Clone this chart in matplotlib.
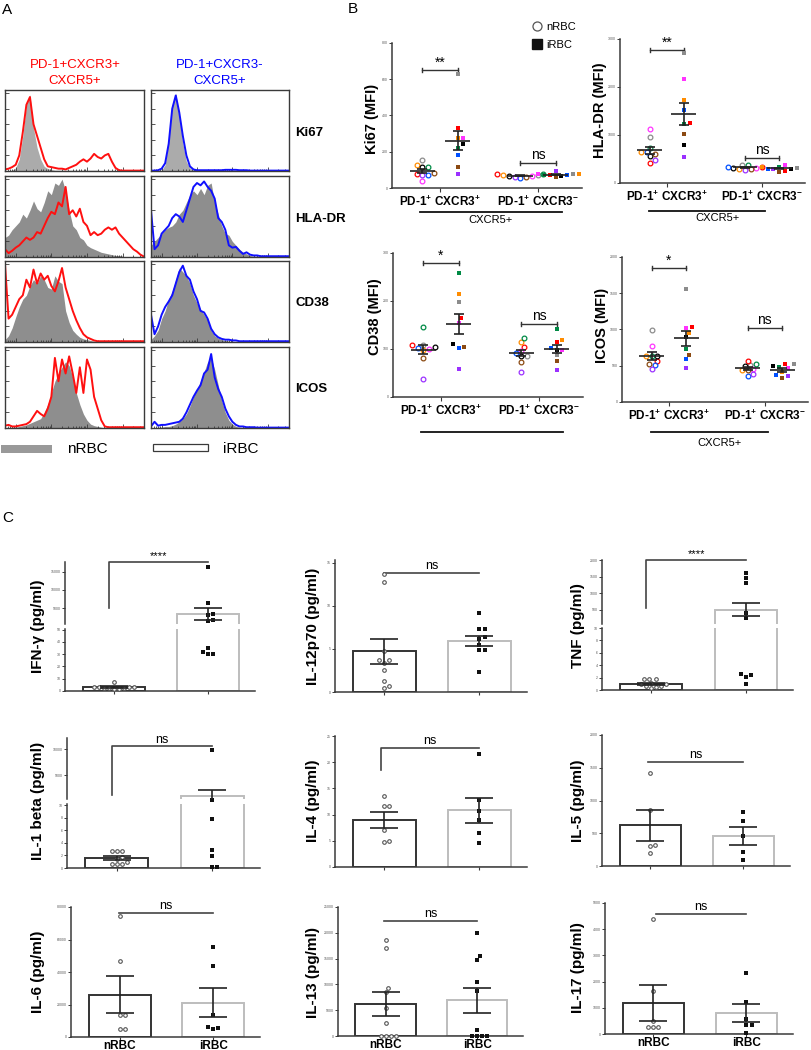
import numpy as np
import matplotlib
matplotlib.use("Agg")
import matplotlib.pyplot as plt
from matplotlib.lines import Line2D
from matplotlib.patches import Rectangle
from matplotlib.transforms import blended_transform_factory

plt.rcParams['font.family'] = ['Liberation Sans', 'DejaVu Sans']
plt.rcParams['mathtext.fontset'] = 'custom'
plt.rcParams['mathtext.rm'] = 'Liberation Sans'
plt.rcParams['mathtext.bf'] = 'Liberation Sans:bold'

# ---------------- data: panel A histograms (relative counts, 40 channels) ----------------
ki67_gray_L = [0, 0, 1, 4, 15, 45, 85, 98, 55, 30, 15, 6, 3, 2, 1, 1, 1, 1, 1, 1,
               1, 1, 1, 1, 1, 1, 1, 0, 0, 0, 0, 0, 0, 0, 0, 0, 0, 0, 0, 0]
ki67_red_L = [2, 3, 5, 8, 20, 50, 85, 95, 60, 45, 30, 15, 6, 5, 4, 3, 3, 2, 4, 6,
              8, 12, 15, 12, 16, 22, 18, 16, 20, 22, 12, 4, 1, 0.5, 0.5, 0.5, 0.5, 0.5, 0.5, 0.5]
ki67_gray_R = [0, 0, 0, 1, 8, 40, 85, 100, 70, 35, 12, 4, 1, 0.5, 0.5, 0.5, 0.5, 0.5, 0.5, 0.5,
               0.5, 0.5, 0.5, 0.5, 0.5, 0.5, 0, 0, 0, 0, 0, 0, 0, 0, 0, 0, 0, 0, 0, 0]
ki67_blue_R = [0.5, 0.5, 1, 3, 10, 35, 80, 97, 75, 45, 20, 6, 2, 1, 1, 1, 1, 1, 1, 1,
               1, 1.5, 1.5, 1.5, 1.5, 1, 1, 1, 0.5, 0.5, 0.5, 0.5, 0.5, 0.5, 0.5, 0.5, 0.5, 0.5, 0.5, 0.5]

hla_gray_L = [25, 28, 35, 40, 45, 55, 50, 60, 72, 62, 58, 70, 85, 80, 95, 92, 100, 85, 60, 40,
              35, 25, 22, 15, 12, 10, 8, 6, 5, 4, 3, 2, 2, 1, 0, 0, 0, 0, 0, 0]
hla_red_L = [10, 5, 8, 12, 15, 20, 25, 22, 25, 32, 30, 40, 50, 58, 55, 70, 65, 90, 55, 60,
             52, 62, 45, 40, 28, 32, 28, 30, 35, 38, 35, 38, 30, 25, 20, 15, 10, 7, 3, 0.5]
hla_gray_R = [15, 20, 25, 30, 35, 38, 40, 45, 55, 60, 70, 80, 85, 80, 88, 80, 92, 95, 70, 55,
              40, 30, 28, 20, 15, 10, 6, 4, 2, 1, 1, 0, 0, 0, 0, 0, 0, 0, 0, 0]
hla_blue_R = [60, 10, 15, 30, 35, 40, 50, 55, 52, 45, 60, 75, 90, 95, 92, 97, 90, 85, 75, 50,
              45, 35, 15, 12, 13, 8, 4, 6, 3, 2, 2, 1, 1, 1, 1, 1, 1, 1, 1, 1]

cd38_gray_L = [3, 8, 18, 32, 45, 55, 60, 72, 80, 75, 85, 80, 70, 68, 85, 78, 75, 40, 25, 15,
               10, 6, 4, 3, 2, 1, 1, 0, 0, 0, 0, 0, 0, 0, 0, 0, 0, 0, 0, 0]
cd38_red_L = [100, 30, 35, 45, 55, 60, 80, 70, 93, 75, 88, 80, 85, 72, 65, 78, 95, 70, 55, 40,
              28, 18, 10, 6, 4, 2, 1, 1, 1, 1, 1, 1, 1, 1, 1, 1, 1, 1, 1, 1]
cd38_gray_R = [3, 8, 15, 30, 40, 55, 65, 80, 95, 90, 85, 75, 60, 50, 42, 35, 28, 15, 8, 5,
               3, 2, 1, 1, 0, 0, 0, 0, 0, 0, 0, 0, 0, 0, 0, 0, 0, 0, 0, 0]
cd38_blue_R = [35, 10, 20, 35, 45, 52, 60, 75, 90, 98, 85, 80, 65, 55, 40, 38, 30, 17, 10, 6,
               4, 3, 3, 2, 2, 1, 1, 1, 1, 1, 1, 1, 1, 1, 1, 1, 1, 1, 1, 1]

icos_gray_L = [0, 0, 1, 1, 2, 3, 4, 6, 8, 10, 12, 20, 30, 45, 60, 70, 78, 85, 80, 65,
               45, 30, 18, 10, 5, 3, 2, 1, 0, 0, 0, 0, 0, 0, 0, 0, 0, 0, 0, 0]
icos_red_L = [3, 4, 2, 2, 3, 4, 5, 8, 15, 22, 18, 15, 25, 40, 90, 60, 88, 70, 92, 70,
              45, 78, 45, 88, 75, 40, 25, 10, 2, 1, 1, 1, 1, 1, 1, 1, 1, 1, 1, 1]
icos_gray_R = [0, 0, 1, 1, 2, 2, 3, 5, 8, 12, 18, 28, 40, 50, 60, 72, 85, 90, 75, 55,
               35, 20, 10, 5, 2, 1, 0, 0, 0, 0, 0, 0, 0, 0, 0, 0, 0, 0, 0, 0]
icos_blue_R = [2, 8, 3, 4, 4, 5, 6, 7, 8, 12, 20, 30, 40, 48, 55, 70, 75, 95, 65, 50,
               40, 25, 15, 8, 4, 2, 2, 1, 1, 1, 0.5, 0.5, 0.5, 0.5, 0.5, 0.5, 0.5, 0.5, 0.5, 0.5]

markers_A = ['Ki67', 'HLA-DR', 'CD38', 'ICOS']

# ---------------- data: panel B (MFI, donors in fixed colour order) ----------------
donor_colors = ['#8c8c8c', '#ff0000', '#ff8c00', '#ff33ff', '#000000',
                '#008a45', '#0050ff', '#8b4a12', '#9b30ff']

ki67_n1 = [155, 80, 125, 38, 115, 118, 72, 82, 70]
ki67_i1 = [628, 330, 278, 278, 240, 220, 183, 118, 75]
ki67_n2 = [70, 78, 72, 65, 68, 75, 55, 60, 62]
ki67_i2 = [75, 70, 80, 75, 68, 72, 70, 60, 94]

hla_n1 = [960, 420, 640, 1130, 560, 730, 640, 600, 470]
hla_i1 = [2700, 1250, 1730, 2160, 790, 1220, 1520, 1030, 550]
hla_n2 = [380, 330, 300, 310, 320, 370, 340, 290, 280]
hla_i2 = [320, 260, 340, 380, 300, 330, 300, 220, 290]

cd38_n1 = [108, 108, 97, 100, 105, 145, 102, 82, 38]
cd38_i1 = [198, 164, 215, 154, 110, 258, 102, 105, 58]
cd38_n2 = [85, 105, 115, 95, 85, 123, 92, 73, 53]
cd38_i2 = [88, 115, 118, 98, 98, 142, 103, 75, 56]

icos_n1 = [993, 566, 640, 772, 640, 640, 510, 530, 455]
icos_i1 = [1558, 1030, 950, 1020, 890, 731, 593, 648, 469]
icos_n2 = [510, 570, 440, 450, 500, 520, 360, 440, 380]
icos_i2 = [520, 530, 420, 470, 500, 480, 370, 330, 360]

group_labels = [r'PD-1$^\mathbf{+}$ CXCR3$^\mathbf{+}$', r'PD-1$^\mathbf{+}$ CXCR3$^\mathbf{-}$']

# ---------------- data: panel C (pg/ml), bar = mean, err = SEM ----------------
ifng_n = [7.5, 3.4, 3.0, 2.8, 3.2, 2.6, 2.4, 2.0, 3.0, 1.8]
ifng_i = [16400, 6400, 3300, 3100, 1600, 1500, 35, 32, 30, 30]
ifng_mean, ifng_sem = [3.2, 3300], [0.5, 1600]

il12_n = [13.7, 12.7, 4.7, 3.7, 3.7, 3.4, 2.6, 1.3, 0.7, 0.5]
il12_i = [9.1, 7.3, 7.3, 6.4, 6.2, 5.5, 4.9, 4.9, 2.3]
il12_mean, il12_sem = [4.7, 5.9], [1.5, 0.6]

tnf_n = [1.8, 1.7, 1.8, 1.0, 0.9, 0.6, 0.5, 0.7, 0.4, 1.2]
tnf_i = [1600, 1450, 1300, 400, 250, 2.6, 2.5, 2.1, 1.0]
tnf_mean, tnf_sem = [0.95, 500], [0.15, 190]

il1b_n = [2.7, 2.7, 2.7, 1.75, 1.4, 0.95, 0.6, 0.6, 0.6]
il1b_i = [9800, 150, 7.8, 2.9, 1.9, 0.2, 0.2]
il1b_mean, il1b_sem = [1.6, 1000], [0.3, 1200]

il4_n = [13.5, 11.7, 11.7, 7.0, 5.0, 4.8]
il4_i = [21.5, 12.7, 10.6, 8.9, 6.5, 4.6]
il4_mean, il4_sem = [9.0, 10.8], [1.5, 2.4]

il5_n = [1420, 860, 320, 310, 200]
il5_i = [820, 680, 455, 210, 90]
il5_mean, il5_sem = [620, 455], [240, 135]

il6_n = [74500, 46700, 13300, 13300, 4800, 4800]
il6_i = [55200, 43600, 13300, 6000, 5400, 4800]
il6_mean, il6_sem = [26000, 21200], [11500, 9100]

il13_n = [18650, 17100, 9230, 8460, 5380, 2500, 0, 0, 0, 0]
il13_i = [20000, 15580, 14800, 10380, 8650, 1150, 0, 0, 0, 0]
il13_mean, il13_sem = [6150, 6920], [2300, 2450]

il17_n = [4380, 1650, 500, 270, 270, 270]
il17_i = [2310, 1230, 570, 350, 350, 40]
il17_mean, il17_sem = [1190, 800], [680, 350]

conditions = ['nRBC', 'iRBC']

# ---------------- figure helpers ----------------
W, H = 811, 1050
fig = plt.figure(figsize=(W / 100, H / 100), dpi=100)
AX_COL = '#3a3a3a'


def rect(x0, y0, x1, y1):
    return [x0 / W, 1 - y1 / H, (x1 - x0) / W, (y1 - y0) / H]


def ftext(x, y, s, **kw):
    fig.text(x / W, 1 - y / H, s, **kw)


def swarm(ypix, d):
    # spread points that would overlap (pixel units)
    order = np.argsort(ypix)
    placed = []
    offs = np.zeros(len(ypix))
    cands = [0.0]
    for j in range(1, 10):
        cands += [j * 0.6 * d, -j * 0.6 * d]
    for i in order:
        for c in cands:
            if all((ypix[i] - py) ** 2 + (c - px) ** 2 >= d * d for py, px in placed):
                break
        placed.append((ypix[i], c))
        offs[i] = c
    return offs


# ---------------- panel A ----------------
ftext(2, 10, 'A', fontsize=11, va='center')
rows_A = [(90, 171), (176, 257), (261, 342), (347, 428)]
cols_A = [(5, 144), (151, 289)]
hist_L = [(ki67_gray_L, ki67_red_L), (hla_gray_L, hla_red_L),
          (cd38_gray_L, cd38_red_L), (icos_gray_L, icos_red_L)]
hist_R = [(ki67_gray_R, ki67_blue_R), (hla_gray_R, hla_blue_R),
          (cd38_gray_R, cd38_blue_R), (icos_gray_R, icos_blue_R)]
gray_fill = ['#ababab', '#8e8e8e', '#8e8e8e', '#8e8e8e']

for r, (ya, yb) in enumerate(rows_A):
    for c, (xa, xb) in enumerate(cols_A):
        gray, line = (hist_L if c == 0 else hist_R)[r]
        ax = fig.add_axes(rect(xa, ya, xb, yb))
        xs = np.arange(len(gray))
        ax.fill_between(xs, 0, gray, color=gray_fill[r], lw=0)
        ax.plot(np.arange(len(line)), line, color='#ff1010' if c == 0 else '#1010ff', lw=1.4)
        ax.set_xlim(0, 39)
        ax.set_ylim(0, 104)
        for s in ax.spines.values():
            s.set_color(AX_COL)
            s.set_linewidth(1.0)
        ax.set_yticks([0, 20, 40, 60, 80, 100])
        dec = [3, 13, 23, 33]
        ax.set_xticks(dec)
        ax.set_xticks([d + 10 * np.log10(k) for d in [-7] + dec for k in range(2, 10)
                       if 0 < d + 10 * np.log10(k) < 39], minor=True)
        ax.tick_params(which='both', direction='in', labelleft=False, labelbottom=False,
                       color=AX_COL, width=0.6)
        ax.tick_params(which='major', length=3)
        ax.tick_params(which='minor', length=1.5)
    ftext(295, (ya + yb) / 2 + 2, markers_A[r], fontsize=9.5, fontweight='bold', va='center')

ftext(75, 65, 'PD-1+CXCR3+', color='#ff0000', fontsize=9.5, ha='center', va='center')
ftext(75, 81, 'CXCR5+', color='#ff0000', fontsize=9.5, ha='center', va='center')
ftext(220, 65, 'PD-1+CXCR3-', color='#0000ff', fontsize=9.5, ha='center', va='center')
ftext(220, 81, 'CXCR5+', color='#0000ff', fontsize=9.5, ha='center', va='center')

fig.patches.append(Rectangle((1 / W, 1 - 453 / H), 51 / W, 8 / H, transform=fig.transFigure,
                             facecolor='#999999', edgecolor='none'))
fig.patches.append(Rectangle((153 / W, 1 - 451 / H), 55 / W, 7 / H, transform=fig.transFigure,
                             facecolor='white', edgecolor=AX_COL, lw=0.9))
ftext(67, 449, 'nRBC', fontsize=11, va='center')
ftext(223, 449, 'iRBC', fontsize=11, va='center')


# ---------------- panel B ----------------
ftext(348, 9, 'B', fontsize=11, va='center')


def mfi_panel(box, groups, ylim, yticks, ylabel, lab_xy, sigs, line_y, line_x, text_y, text_x):
    x0, y0, x1, y1 = box
    ax = fig.add_axes(rect(*box))
    xl = (0.51, 2.45)
    ax.set_xlim(*xl)
    ax.set_ylim(*ylim)
    xpx = (x1 - x0) / (xl[1] - xl[0])
    ypx = (y1 - y0) / (ylim[1] - ylim[0])
    centers = [0.82, 1.18, 1.82, 2.18]
    for k, vals in enumerate(groups):
        vals = np.array(vals, float)
        offs = swarm(vals * ypx, 4.8) / xpx
        for j, v in enumerate(vals):
            if k % 2 == 0:
                ax.plot(centers[k] + offs[j], v, 'o', ms=3.4, mfc='none',
                        mec=donor_colors[j], mew=0.9, zorder=3)
            else:
                ax.plot(centers[k] + offs[j], v, 's', ms=3.4, mfc=donor_colors[j],
                        mec=donor_colors[j], mew=0, zorder=3)
        m = vals.mean()
        sem = vals.std(ddof=1) / np.sqrt(len(vals))
        ax.hlines(m, centers[k] - 0.13, centers[k] + 0.13, color='#222222', lw=1.2, zorder=4)
        ax.errorbar(centers[k], m, yerr=sem, fmt='none', ecolor='#222222',
                    elinewidth=1.2, capsize=3.5, capthick=1.2, zorder=4)
    cap = 2.2 / ypx
    for g, (lab, yv) in enumerate(sigs):
        a, b = centers[2 * g], centers[2 * g + 1]
        ax.plot([a, b], [yv, yv], color='#333333', lw=1.0)
        ax.plot([a, a], [yv - cap, yv + cap], color='#333333', lw=1.0)
        ax.plot([b, b], [yv - cap, yv + cap], color='#333333', lw=1.0)
        ax.annotate(lab, ((a + b) / 2, yv), xytext=(0, 0.5), textcoords='offset points',
                    ha='center', va='bottom', fontsize=10)
    for s in ['top', 'right']:
        ax.spines[s].set_visible(False)
    for s in ['left', 'bottom']:
        ax.spines[s].set_color(AX_COL)
        ax.spines[s].set_linewidth(1.1)
    ax.set_yticks(yticks)
    ax.set_yticklabels([str(t) for t in yticks], fontsize=2.5, color='#555555')
    ax.tick_params(axis='y', length=2, width=0.7, pad=1, color=AX_COL)
    ax.set_xticks([1, 2])
    ax.set_xticklabels(group_labels, fontsize=8.5, fontweight='bold')
    ax.tick_params(axis='x', length=3, width=0.8, pad=2, color=AX_COL)
    tr = blended_transform_factory(ax.transData, ax.transAxes)
    ax.plot(line_x, [line_y, line_y], color='#111111', lw=1.3, transform=tr, clip_on=False)
    if text_y is not None:
        ax.text(text_x, text_y, 'CXCR5+', transform=tr, ha='center', va='center', fontsize=8)
    ftext(lab_xy[0], lab_xy[1], ylabel, rotation=90, fontsize=10.5, fontweight='bold',
          ha='center', va='center')
    return ax


mfi_panel((392, 43, 582, 188), [ki67_n1, ki67_i1, ki67_n2, ki67_i2], (0, 800),
          [0, 200, 400, 600, 800], 'Ki67 (MFI)', (372, 119), [('**', 651), ('ns', 138)],
          -0.166, [0.80, 2.25], -0.22, 1.52)
mfi_panel((620, 39, 805, 183), [hla_n1, hla_i1, hla_n2, hla_i2], (0, 3000),
          [0, 1000, 2000, 3000], 'HLA-DR (MFI)', (600, 110), [('**', 2770), ('ns', 520)],
          -0.194, [0.81, 2.03], -0.243, 1.53)
mfi_panel((393, 253, 583, 397), [cd38_n1, cd38_i1, cd38_n2, cd38_i2], (0, 300),
          [0, 100, 200, 300], 'CD38 (MFI)', (375, 317), [('*', 279), ('ns', 152)],
          -0.243, [0.80, 2.25], None, None)
mfi_panel((622, 257, 808, 402), [icos_n1, icos_i1, icos_n2, icos_i2], (0, 2000),
          [0, 500, 1000, 1500, 2000], 'ICOS (MFI)', (602, 325), [('*', 1848), ('ns', 1020)],
          -0.207, [0.81, 2.03], -0.283, 1.53)

fig.legend(handles=[Line2D([], [], marker='o', ls='none', ms=6.5, mfc='none', mec='#555555', mew=0.9),
                    Line2D([], [], marker='s', ls='none', ms=6.5, mfc='#111111', mec='#111111')],
           labels=conditions, loc='upper left', bbox_to_anchor=(531 / W, 1 - 22 / H),
           frameon=False, fontsize=8, handletextpad=0.35, labelspacing=0.75,
           handlelength=1.0, borderaxespad=0, borderpad=0)


# ---------------- panel C ----------------
ftext(2, 518, 'C', fontsize=11, va='center')


def cyto_panel(xa, xb, segs, vn, vi, means, sems, ylabel, lab_xy, bracket, xlabels=False):
    # segs: list of (y_top_px, y_bottom_px, ylim, yticks), bottom segment first
    axes = []
    xl = (-0.52, 1.5)
    xpx = (xb - xa) / (xl[1] - xl[0])
    base = segs[0][1]

    def to_px(v):
        for ya, yb, lim, _ in segs:
            if v <= lim[1] or (ya, yb) == segs[-1][:2]:
                return (base - yb) + (max(v, lim[0]) - lim[0]) / (lim[1] - lim[0]) * (yb - ya)
        return 0

    def seg_of(v):
        for k, (ya, yb, lim, _) in enumerate(segs):
            if v <= lim[1]:
                return k
        return len(segs) - 1

    for k, (ya, yb, lim, ticks) in enumerate(segs):
        ax = fig.add_axes(rect(xa, ya, xb, yb))
        ax.patch.set_alpha(0)
        ax.set_xlim(*xl)
        ax.set_ylim(*lim)
        ax.bar([0, 1], means, width=0.66, color='white', edgecolor=['#333333', '#bdbdbd'],
               lw=1.4, zorder=1)
        for s in ['top', 'right']:
            ax.spines[s].set_visible(False)
        ax.spines['left'].set_color(AX_COL)
        ax.spines['left'].set_linewidth(1.1)
        if k == 0:
            ax.spines['bottom'].set_color(AX_COL)
            ax.spines['bottom'].set_linewidth(1.1)
            ax.set_xticks([0, 1])
            if xlabels:
                ax.set_xticklabels(conditions, fontsize=8.5, fontweight='bold')
            else:
                ax.set_xticklabels([])
            ax.tick_params(axis='x', length=2, width=0.8, pad=0, color=AX_COL)
        else:
            ax.spines['bottom'].set_visible(False)
            ax.set_xticks([])
        ax.set_yticks(ticks)
        ax.set_yticklabels([str(t) for t in ticks], fontsize=2.5, color='#555555')
        ax.tick_params(axis='y', length=2, width=0.7, pad=1, color=AX_COL)
        axes.append(ax)

    for g, vals in enumerate([vn, vi]):
        offs = swarm(np.array([to_px(v) for v in vals]), 4.2) / xpx
        for j, v in enumerate(vals):
            ax = axes[seg_of(v)]
            if g == 0:
                ax.plot(g + offs[j], v, 'o', ms=2.6, mfc='white', mec='#555555', mew=0.8,
                        clip_on=False, zorder=3)
            else:
                ax.plot(g + offs[j], v, 's', ms=2.6, mfc='#111111', mec='#111111', mew=0,
                        clip_on=False, zorder=3)
        ax = axes[seg_of(means[g])]
        ax.errorbar(g, means[g], yerr=sems[g], fmt='none', ecolor='#222222',
                    elinewidth=1.2, capsize=10, capthick=1.2, zorder=4)

    si, xl_, ydrop, yline, xr_, lab = bracket
    ax = axes[si]
    if ydrop is None:
        ax.plot([xl_, xr_], [yline, yline], color='#444444', lw=1.2, clip_on=False)
    else:
        ax.plot([xl_, xl_, xr_], [ydrop, yline, yline], color='#444444', lw=1.2, clip_on=False)
    ax.annotate(lab, ((xl_ + xr_) / 2, yline), xytext=(0, 0.5), textcoords='offset points',
                ha='center', va='bottom', fontsize=9 if lab == 'ns' else 8)
    ftext(lab_xy[0], lab_xy[1], ylabel, rotation=90, fontsize=11, fontweight='bold',
          ha='center', va='center')


cyto_panel(65, 255, [(629, 691, (0, 50.5), [0, 10, 20, 30, 40, 50]),
                     (562, 624, (600, 17700), [5000, 10000, 15000])],
           ifng_n, ifng_i, ifng_mean, ifng_sem, 'IFN-γ (pg/ml)', (38, 626),
           (1, -0.05, 4900, 17700, 1.0, '****'))
cyto_panel(335, 527, [(560, 692, (0, 15.3), [0, 5, 10, 15])],
           il12_n, il12_i, il12_mean, il12_sem, 'IL-12p70 (pg/ml)', (313, 626),
           (0, 0.0, None, 13.8, 1.0, 'ns'))
cyto_panel(602, 793, [(628, 690, (0, 10), [0, 2, 4, 6, 8, 10]),
                      (560, 624, (70, 2000), [500, 1000, 1500, 2000])],
           tnf_n, tnf_i, tnf_mean, tnf_sem, 'TNF (pg/ml)', (578, 626),
           (1, -0.05, 560, 2000, 1.0, '****'))

cyto_panel(67, 260, [(804, 868, (0, 10.2), [0, 2, 4, 6, 8, 10]),
                     (738, 799, (400, 12200), [5000, 10000])],
           il1b_n, il1b_i, il1b_mean, il1b_sem, 'IL-1 beta (pg/ml)', (38, 801),
           (1, -0.05, 1200, 10600, 1.0, 'ns'))
cyto_panel(335, 527, [(736, 867, (0, 25), [0, 5, 10, 15, 20, 25])],
           il4_n, il4_i, il4_mean, il4_sem, 'IL-4 (pg/ml)', (313, 801),
           (0, -0.04, 18.5, 22.7, 1.0, 'ns'))
cyto_panel(602, 790, [(735, 866, (0, 2000), [0, 500, 1000, 1500, 2000])],
           il5_n, il5_i, il5_mean, il5_sem, 'IL-5 (pg/ml)', (578, 801),
           (0, -0.03, None, 1590, 1.0, 'ns'))

cyto_panel(71, 260, [(907, 1037, (0, 80000), [0, 20000, 40000, 60000, 80000])],
           il6_n, il6_i, il6_mean, il6_sem, 'IL-6 (pg/ml)', (38, 972),
           (0, -0.01, None, 76400, 1.0, 'ns'), xlabels=True)
cyto_panel(338, 523, [(907, 1036, (0, 25000), [0, 5000, 10000, 15000, 20000, 25000])],
           il13_n, il13_i, il13_mean, il13_sem, 'IL-13 (pg/ml)', (313, 972),
           (0, -0.02, None, 22300, 1.0, 'ns'), xlabels=True)
cyto_panel(605, 793, [(903, 1034, (0, 5000), [0, 1000, 2000, 3000, 4000, 5000])],
           il17_n, il17_i, il17_mean, il17_sem, 'IL-17 (pg/ml)', (578, 968),
           (0, 0.03, None, 4580, 1.0, 'ns'), xlabels=True)

fig.savefig('out.png', dpi=100)
